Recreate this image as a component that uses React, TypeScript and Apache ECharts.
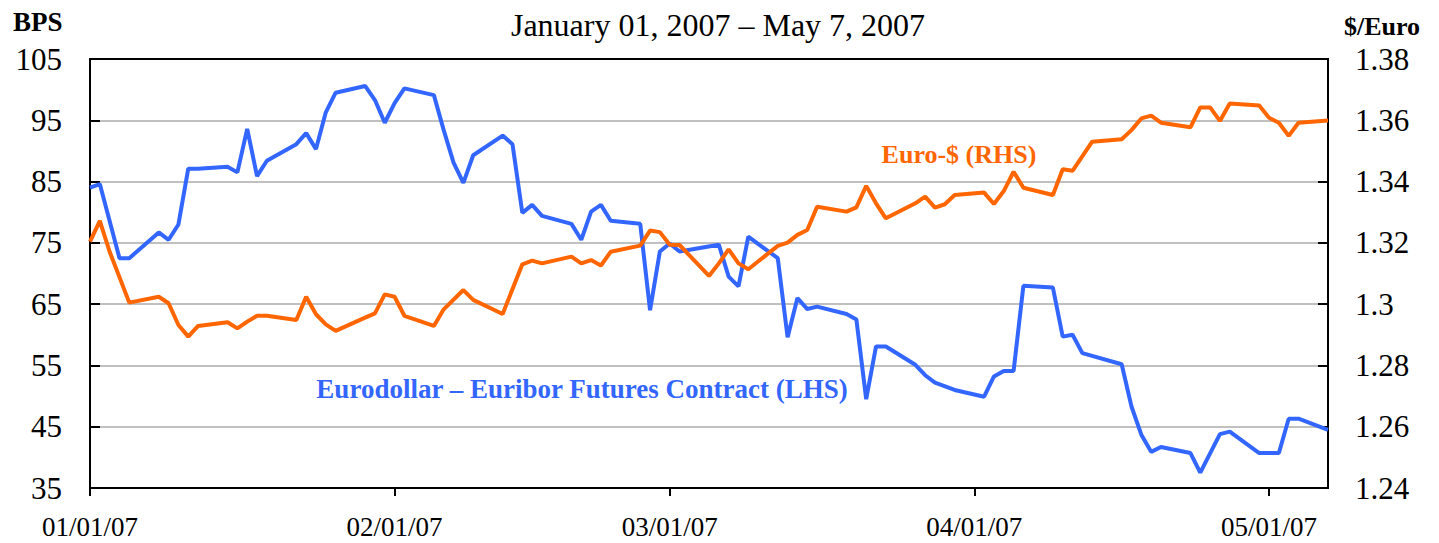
import React, { useEffect, useRef } from "react";
import * as echarts from "echarts";

// Axis range
const startDate = "2007-01-01";
const endDate = "2007-05-07";

// Eurodollar – Euribor futures contract spread (BPS, left axis)
const spreadDates = [
  "2007-01-01", "2007-01-02", "2007-01-04", "2007-01-05", "2007-01-08", "2007-01-09", "2007-01-10",
  "2007-01-11", "2007-01-12", "2007-01-15", "2007-01-16", "2007-01-17", "2007-01-18", "2007-01-19",
  "2007-01-22", "2007-01-23", "2007-01-24", "2007-01-25", "2007-01-26", "2007-01-29", "2007-01-30",
  "2007-01-31", "2007-02-01", "2007-02-02", "2007-02-05", "2007-02-06", "2007-02-07", "2007-02-08",
  "2007-02-09", "2007-02-12", "2007-02-13", "2007-02-14", "2007-02-15", "2007-02-16", "2007-02-19",
  "2007-02-20", "2007-02-21", "2007-02-22", "2007-02-23", "2007-02-26", "2007-02-27", "2007-02-28",
  "2007-03-01", "2007-03-02", "2007-03-06", "2007-03-07", "2007-03-08", "2007-03-09", "2007-03-12",
  "2007-03-13", "2007-03-14", "2007-03-15", "2007-03-16", "2007-03-19", "2007-03-20", "2007-03-21",
  "2007-03-22", "2007-03-23", "2007-03-26", "2007-03-27", "2007-03-28", "2007-03-30", "2007-04-02",
  "2007-04-03", "2007-04-04", "2007-04-05", "2007-04-06", "2007-04-09", "2007-04-10", "2007-04-11",
  "2007-04-12", "2007-04-16", "2007-04-17", "2007-04-18", "2007-04-19", "2007-04-20", "2007-04-23",
  "2007-04-24", "2007-04-26", "2007-04-27", "2007-04-30", "2007-05-02", "2007-05-03", "2007-05-04",
  "2007-05-07",
];
const spreadValues = [
  84.0, 84.6, 72.5, 72.5, 76.7, 75.5, 78.0,
  87.1, 87.1, 87.4, 86.5, 93.6, 85.9, 88.4,
  91.1, 92.9, 90.3, 96.3, 99.5, 100.6, 98.3,
  94.6, 97.8, 100.2, 99.1, 93.4, 88.1, 84.8,
  89.3, 92.5, 91.1, 79.9, 81.2, 79.4, 78.1,
  75.5, 80.1, 81.2, 78.6, 78.1, 64.0, 73.6,
  74.9, 73.6, 74.7, 69.5, 67.9, 76.0, 72.5,
  59.6, 66.0, 64.2, 64.6, 63.4, 62.5, 49.5,
  58.1, 58.1, 55.1, 53.4, 52.2, 51.0, 49.9,
  53.2, 54.1, 54.1, 68.0, 67.7, 59.7, 60.0,
  57.0, 55.2, 48.3, 43.7, 40.9, 41.7, 40.7,
  37.5, 43.8, 44.2, 40.7, 40.7, 46.3, 46.3,
  44.5,
];

// Euro-$ exchange rate ($/Euro, right axis)
const fxDates = [
  "2007-01-01", "2007-01-02", "2007-01-03", "2007-01-05", "2007-01-08", "2007-01-09", "2007-01-10",
  "2007-01-11", "2007-01-12", "2007-01-15", "2007-01-16", "2007-01-17", "2007-01-18", "2007-01-19",
  "2007-01-22", "2007-01-23", "2007-01-24", "2007-01-25", "2007-01-26", "2007-01-29", "2007-01-30",
  "2007-01-31", "2007-02-01", "2007-02-02", "2007-02-05", "2007-02-06", "2007-02-08", "2007-02-09",
  "2007-02-12", "2007-02-14", "2007-02-15", "2007-02-16", "2007-02-19", "2007-02-20", "2007-02-21",
  "2007-02-22", "2007-02-23", "2007-02-26", "2007-02-27", "2007-02-28", "2007-03-01", "2007-03-02",
  "2007-03-05", "2007-03-06", "2007-03-07", "2007-03-08", "2007-03-09", "2007-03-12", "2007-03-13",
  "2007-03-14", "2007-03-15", "2007-03-16", "2007-03-19", "2007-03-20", "2007-03-21", "2007-03-22",
  "2007-03-23", "2007-03-26", "2007-03-27", "2007-03-28", "2007-03-29", "2007-03-30", "2007-04-02",
  "2007-04-03", "2007-04-04", "2007-04-05", "2007-04-06", "2007-04-09", "2007-04-10", "2007-04-11",
  "2007-04-13", "2007-04-16", "2007-04-17", "2007-04-18", "2007-04-19", "2007-04-20", "2007-04-23",
  "2007-04-24", "2007-04-25", "2007-04-26", "2007-04-27", "2007-04-30", "2007-05-01", "2007-05-02",
  "2007-05-03", "2007-05-04", "2007-05-07",
];
const fxValues = [
  1.3204, 1.3272, 1.3171, 1.3005, 1.3024, 1.3003, 1.2932,
  1.2894, 1.2929, 1.2941, 1.2921, 1.2943, 1.2962, 1.2962,
  1.2948, 1.3024, 1.2967, 1.2934, 1.2913, 1.2956, 1.297,
  1.3032, 1.3024, 1.2962, 1.2929, 1.2983, 1.3046, 1.3014,
  1.2968, 1.313, 1.3142, 1.3133, 1.3155, 1.3133, 1.3144,
  1.3126, 1.3171, 1.3191, 1.324, 1.3235, 1.3194, 1.3193,
  1.3092, 1.3133, 1.3179, 1.3133, 1.3114, 1.319, 1.3201,
  1.3226, 1.3242, 1.3318, 1.3302, 1.3316, 1.3386, 1.3329,
  1.328, 1.3329, 1.3351, 1.3315, 1.3326, 1.3356, 1.3364,
  1.3327, 1.3369, 1.3432, 1.338, 1.3356, 1.344, 1.3435,
  1.353, 1.3538, 1.3568, 1.3606, 1.3615, 1.3592, 1.3577,
  1.3642, 1.3642, 1.3598, 1.3655, 1.3648, 1.3608, 1.3592,
  1.3549, 1.3592, 1.3599,
];

const titleText = "January 01, 2007 \u2013 May 7, 2007";
const leftUnit = "BPS";
const rightUnit = "$/Euro";
const fxLabel = "Euro-$ (RHS)";
const spreadLabel = "Eurodollar \u2013 Euribor Futures Contract (LHS)";

const BLUE = "#3366ff";
const ORANGE = "#ff6600";
const FONT = "'Liberation Serif', 'Times New Roman', serif";

function buildDays(start: string, end: string): string[] {
  const out: string[] = [];
  const d = new Date(start + "T00:00:00Z");
  const e = new Date(end + "T00:00:00Z");
  while (d.getTime() <= e.getTime()) {
    out.push(d.toISOString().slice(0, 10));
    d.setUTCDate(d.getUTCDate() + 1);
  }
  return out;
}

const isMonthStart = (_i: number, v: string) => typeof v === "string" && v.slice(8, 10) === "01";

export default function App() {
  const ref = useRef<HTMLDivElement>(null);

  useEffect(() => {
    if (!ref.current) return;
    const chart = echarts.init(ref.current, undefined, { renderer: "svg" });
    const days = buildDays(startDate, endDate);

    chart.setOption({
      animation: false,
      backgroundColor: "#ffffff",
      textStyle: { fontFamily: FONT },
      grid: {
        left: 90,
        right: 111,
        top: 59,
        bottom: 55,
        containLabel: false,
        outerBoundsMode: "none",
        show: true,
        borderColor: "#000",
        borderWidth: 2,
      },
      xAxis: {
        type: "category",
        data: days,
        boundaryGap: false,
        axisLine: { show: true, lineStyle: { color: "#000", width: 2 } },
        axisTick: {
          show: true,
          interval: isMonthStart,
          length: 8,
          inside: false,
          lineStyle: { color: "#000", width: 2 },
        },
        axisLabel: {
          interval: isMonthStart,
          fontFamily: FONT,
          fontSize: 27,
          color: "#000",
          margin: 25,
          formatter: (v: string) => `${v.slice(5, 7)}/${v.slice(8, 10)}/${v.slice(2, 4)}`,
        },
        splitLine: { show: false },
      },
      yAxis: [
        {
          type: "value",
          position: "left",
          min: 35,
          max: 105,
          interval: 10,
          axisLine: { show: true, lineStyle: { color: "#000", width: 2 } },
          axisTick: { show: true, inside: true, length: 10, lineStyle: { color: "#000", width: 2 } },
          axisLabel: { fontFamily: FONT, fontSize: 31, color: "#000", margin: 28 },
          splitLine: {
            show: true,
            showMinLine: false,
            showMaxLine: false,
            lineStyle: { color: "#c0c0c0", width: 2 },
          },
        },
        {
          type: "value",
          position: "right",
          min: 1.24,
          max: 1.38,
          interval: 0.02,
          axisLine: { show: true, lineStyle: { color: "#000", width: 2 } },
          axisTick: { show: true, inside: true, length: 10, lineStyle: { color: "#000", width: 2 } },
          axisLabel: {
            fontFamily: FONT,
            fontSize: 31,
            color: "#000",
            margin: 27,
            formatter: (v: number) => String(Number(v.toFixed(2))),
          },
          splitLine: { show: false },
        },
      ],
      series: [
        {
          name: spreadLabel,
          type: "line",
          yAxisIndex: 0,
          data: spreadDates.map((d, i) => [d, spreadValues[i]]),
          showSymbol: false,
          lineStyle: { color: BLUE, width: 4 },
          itemStyle: { color: BLUE },
        },
        {
          name: fxLabel,
          type: "line",
          yAxisIndex: 1,
          data: fxDates.map((d, i) => [d, fxValues[i]]),
          showSymbol: false,
          lineStyle: { color: ORANGE, width: 4 },
          itemStyle: { color: ORANGE },
        },
      ],
      graphic: [
        {
          type: "text",
          x: 718,
          y: 25,
          style: {
            text: titleText,
            fontFamily: FONT,
            fontSize: 32,
            fill: "#000",
            textAlign: "center",
            textVerticalAlign: "middle",
          },
        },
        {
          type: "text",
          x: 13,
          y: 22,
          style: {
            text: leftUnit,
            fontFamily: FONT,
            fontSize: 27,
            fontWeight: "bold",
            fill: "#000",
            textAlign: "left",
            textVerticalAlign: "middle",
          },
        },
        {
          type: "text",
          x: 1382,
          y: 26,
          style: {
            text: rightUnit,
            fontFamily: FONT,
            fontSize: 26,
            fontWeight: "bold",
            fill: "#000",
            textAlign: "center",
            textVerticalAlign: "middle",
          },
        },
        {
          type: "text",
          x: 959,
          y: 154,
          style: {
            text: fxLabel,
            fontFamily: FONT,
            fontSize: 26,
            fontWeight: "bold",
            fill: ORANGE,
            textAlign: "center",
            textVerticalAlign: "middle",
          },
        },
        {
          type: "text",
          x: 582,
          y: 389,
          style: {
            text: spreadLabel,
            fontFamily: FONT,
            fontSize: 27,
            fontWeight: "bold",
            fill: BLUE,
            textAlign: "center",
            textVerticalAlign: "middle",
          },
        },
      ],
    });

    return () => chart.dispose();
  }, []);

  return (
    <div
      ref={ref}
      style={{ position: "fixed", left: 0, top: 0, width: 1439, height: 543, background: "#fff" }}
    />
  );
}
